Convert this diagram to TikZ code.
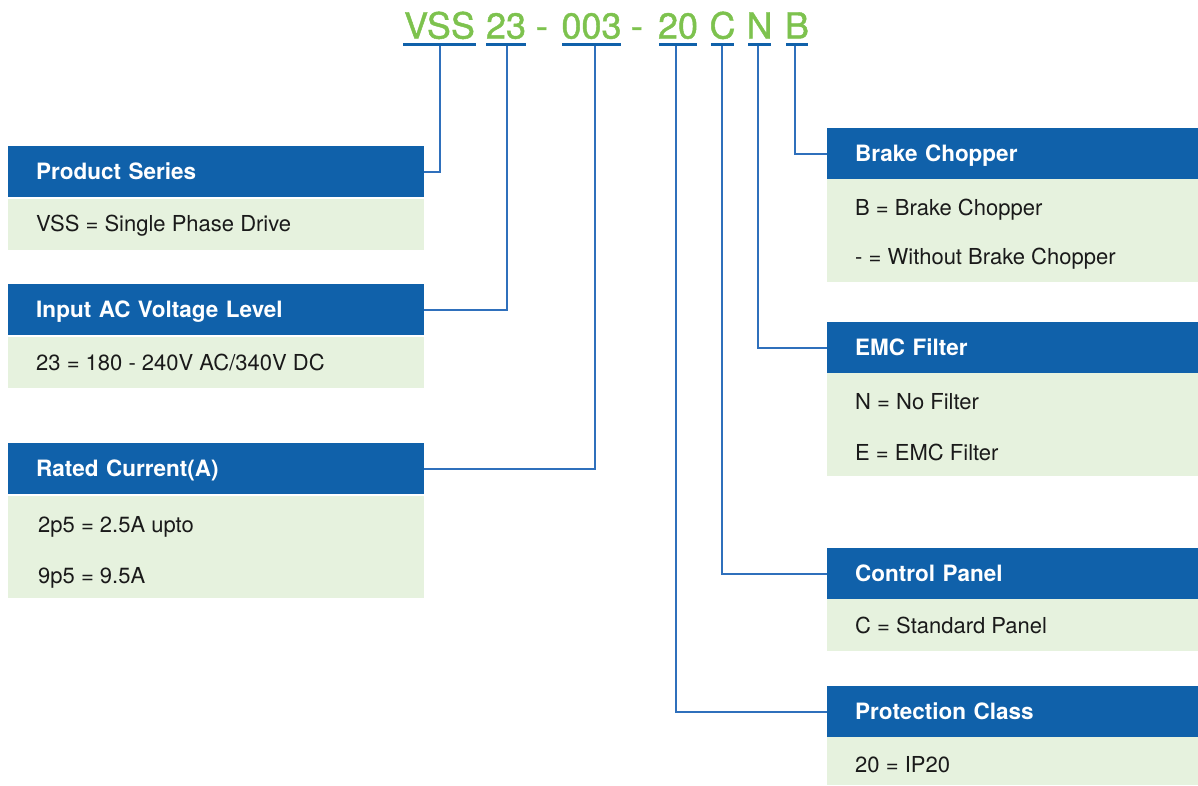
\documentclass[tikz,border=0pt]{standalone}
\usepackage{fontspec}
\setmainfont{TeX Gyre Heros}
\newfontfamily\codefont[FakeBold=1.2]{TeX Gyre Heros}
\definecolor{hblue}{HTML}{1061AA}
\definecolor{bgreen}{HTML}{E6F2DE}
\definecolor{cgreen}{HTML}{7DC24E}
\definecolor{lblue}{HTML}{2F70BC}
\definecolor{tdark}{HTML}{1A1A1A}
\begin{document}
\begin{tikzpicture}[x=1pt,y=-1pt,
  hdr/.style={fill=hblue,text=white,font=\fontsize{22.5}{26}\selectfont\bfseries,
    anchor=north west,inner xsep=28pt,inner ysep=0pt,minimum height=51pt,
    text height=15.8pt,text depth=0pt,align=left},
  hdrL/.style={hdr,text width=360pt},
  hdrR/.style={hdr,text width=315pt},
  bodybox/.style={fill=bgreen,anchor=north west,inner sep=0pt},
  bodyL/.style={bodybox,minimum width=416pt},
  bodyR/.style={bodybox,minimum width=371pt},
  bline/.style={anchor=west,font=\fontsize{22}{26}\selectfont,text=tdark,
    inner sep=0pt,text height=15.8pt,text depth=0pt},
  code/.style={anchor=base,font=\codefont\fontsize{36}{40}\selectfont,text=cgreen,inner sep=0pt},
  uline/.style={hblue,line width=3pt},
  conn/.style={lblue,line width=1.6pt}]
\useasboundingbox (0,0) rectangle (1198,785);

% code string
\node[code] (cVSS) at (439.5,38.5) {VSS};
\node[code] (c23) at (506,38.5) {23};
\node[code] (d1) at (542,38.5) {-};
\node[code] (c003) at (591.5,38.5) {003};
\node[code] (d2) at (637,38.5) {-};
\node[code] (c20) at (678,38.5) {20};
\node[code] (cC) at (722.5,38.5) {C};
\node[code] (cN) at (759.5,38.5) {N};
\node[code] (cB) at (797,38.5) {B};

\draw[uline] (403,44.5) -- (476,44.5);
\draw[uline] (486,44.5) -- (526,44.5);
\draw[uline] (562,44.5) -- (621,44.5);
\draw[uline] (659,44.5) -- (697,44.5);
\draw[uline] (711,44.5) -- (734,44.5);
\draw[uline] (748,44.5) -- (771,44.5);
\draw[uline] (786,44.5) -- (808,44.5);

\coordinate (uVSS) at (440,46);
\coordinate (u23) at (507,46);
\coordinate (u003) at (595,46);
\coordinate (u20) at (676,46);
\coordinate (uC) at (722,46);
\coordinate (uN) at (758,46);
\coordinate (uB) at (795,46);

% left boxes
\node[hdrL] (ps) at (8,146) {Product Series};
\node[bodyL,minimum height=51pt] (psb) at (8,199) {};
\node[bline] (ps1) at (36,224) {VSS = Single Phase Drive};

\node[hdrL] (iac) at (8,284) {Input AC Voltage Level};
\node[bodyL,minimum height=51pt] (iacb) at (8,337) {};
\node[bline] (iac1) at (36,362.5) {23 = 180 - 240V AC/340V DC};

\node[hdrL] (rc) at (8,443) {Rated Current(A)};
\node[bodyL,minimum height=102pt] (rcb) at (8,496) {};
\node[bline] (rc1) at (38,524.5) {2p5 = 2.5A upto};
\node[bline] (rc2) at (38,575.5) {9p5 = 9.5A};

% right boxes
\node[hdrR] (bc) at (827,128) {Brake Chopper};
\node[bodyR,minimum height=103pt] (bcb) at (827,179) {};
\node[bline] (bc1) at (855,207.5) {B = Brake Chopper};
\node[bline] (bc2) at (855,256.5) {- = Without Brake Chopper};

\node[hdrR] (emc) at (827,322) {EMC Filter};
\node[bodyR,minimum height=103pt] (emcb) at (827,373) {};
\node[bline] (emc1) at (855,402) {N = No Filter};
\node[bline] (emc2) at (855,453) {E = EMC Filter};

\node[hdrR] (cp) at (827,548) {Control Panel};
\node[bodyR,minimum height=52pt] (cpb) at (827,599) {};
\node[bline] (cp1) at (855,626) {C = Standard Panel};

\node[hdrR] (pc) at (827,686) {Protection Class};
\node[bodyR,minimum height=48pt] (pcb) at (827,737) {};
\node[bline] (pc1) at (855,765) {20 = IP20};

% connectors
\draw[conn] (uVSS) |- (ps.east);
\draw[conn] (u23) |- (iac.east);
\draw[conn] (u003) |- (rc.east);
\draw[conn] (u20) |- (pc.west);
\draw[conn] (uC) |- (cp.west);
\draw[conn] (uN) |- (emc.west);
\draw[conn] (uB) |- (bc.west);
\end{tikzpicture}
\end{document}
